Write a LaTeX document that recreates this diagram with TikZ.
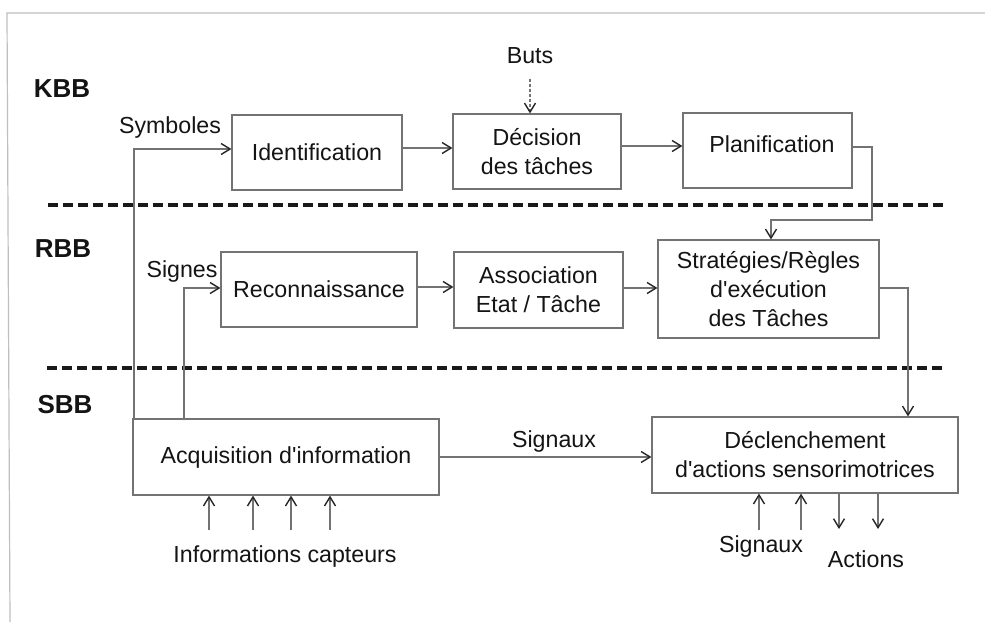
\documentclass[tikz,border=0pt]{standalone}
\usepackage{fontspec}
\setmainfont{Liberation Sans}
\usetikzlibrary{arrows.meta}
\definecolor{boxgray}{gray}{0.45}
\definecolor{linegray}{gray}{0.45}
\definecolor{framegray}{gray}{0.75}
\definecolor{txt}{gray}{0.08}
\begin{document}
\begin{tikzpicture}[x=0.5pt,y=-0.5pt,
  txtfont/.style={font=\fontsize{11.6pt}{14.5pt}\selectfont},
  box/.style={draw=boxgray, line width=0.6pt, inner sep=0pt, align=center, txtfont, text=txt},
  lbl/.style={inner sep=0pt, txtfont, text=txt},
  layer/.style={inner sep=0pt, font=\fontsize{13pt}{15pt}\selectfont\bfseries, text=txt},
  arr/.style={draw=linegray, line width=0.55pt,
    -{Straight Barb[length=4.5pt,width=5.5pt,line width=0.7pt,color=black!85]}},
  sep/.style={draw=black!90, line width=2.2pt, dash pattern=on 5pt off 2.5pt}
]
\useasboundingbox (0,0) rectangle (985,622);
\fill[white] (0,0) rectangle (985,622);
% page frame
\draw[framegray, line width=0.6pt] (985,13) -- (7,13) -- (10,622);

% layer separators
\draw[sep] (48,205) -- (943,205);
\draw[sep] (47,368) -- (943,368);

% layer labels
\node[layer, anchor=base] (kbb) at (62,97) {KBB};
\node[layer, anchor=base] (rbb) at (63,257) {RBB};
\node[layer, anchor=base] (sbb) at (65,413) {SBB};

% boxes
\node[box, minimum width=85pt, minimum height=37.5pt] (ident) at (317,152.5) {Identification};
\node[box, minimum width=84pt, minimum height=37.5pt] (dec) at (537,151.5) {Décision\\des tâches};
\node[box, minimum width=84.5pt, minimum height=37.5pt] (plan) at (767.5,150.5) {};
\node[lbl, anchor=base] (planT) at (772,152) {Planification};
\node[box, minimum width=98pt, minimum height=37.5pt] (reco) at (319,289.5) {Reconnaissance};
\node[box, minimum width=84.5pt, minimum height=38pt] (assoc) at (538.5,290) {Association\\Etat / Tâche};
\node[box, minimum width=110.5pt, minimum height=49pt] (strat) at (768.5,289) {Stratégies/Règles\\d\textquotesingle exécution\\des Tâches};
\node[box, minimum width=153pt, minimum height=38pt] (acq) at (286,457) {Acquisition d\textquotesingle information};
\node[box, minimum width=153pt, minimum height=38pt] (decl) at (805,455) {Déclenchement\\d\textquotesingle actions sensorimotrices};

% free labels
\node[lbl, anchor=base] (buts) at (530,63) {Buts};
\node[lbl, anchor=base] (symb) at (170,133) {Symboles};
\node[lbl, anchor=base] (signes) at (182,277) {Signes};
\node[lbl, anchor=base] (sigmid) at (554,447) {Signaux};
\node[lbl, anchor=base] (infocapt) at (285,562) {Informations capteurs};
\node[lbl, anchor=base] (sigbot) at (761,552) {Signaux};
\node[lbl, anchor=base] (actions) at (866,567) {Actions};

% connectors
\draw[arr, dash pattern=on 1.5pt off 1pt, shorten <=7.5pt] (buts.south) -- (dec.north -| buts.south);
\draw[arr] (ident.east |- 0,148) -- (dec.west |- 0,148);
\draw[arr] (dec.east |- 0,146) -- (plan.west |- 0,146);
\draw[arr] (plan.east |- 0,147) -| (872,220) -| (strat.north -| 771,0);
\draw[arr] (reco.east |- 0,287) -- (assoc.west |- 0,287);
\draw[arr] (assoc.east |- 0,288) -- (strat.west |- 0,288);
\draw[arr] (strat.east |- 0,288) -| (decl.north -| 908,0);
\draw[arr] (acq.north -| 134,0) |- (ident.west |- 0,149);
\draw[arr] (acq.north -| 184,0) |- (reco.west |- 0,288);
\draw[arr] (acq.east |- 0,457) -- (decl.west |- 0,457);

% sensor inputs
\coordinate (in1) at (209,530);
\coordinate (in2) at (253,530);
\coordinate (in3) at (291,530);
\coordinate (in4) at (330,530);
\foreach \c in {in1,in2,in3,in4} \draw[arr] (\c) -- (\c |- acq.south);

% bottom signals and actions
\coordinate (s1) at (759,530);
\coordinate (s2) at (801,530);
\coordinate (a1) at (839,529);
\coordinate (a2) at (878,529);
\draw[arr] (s1) -- (s1 |- decl.south);
\draw[arr] (s2) -- (s2 |- decl.south);
\draw[arr] (a1 |- decl.south) -- (a1);
\draw[arr] (a2 |- decl.south) -- (a2);
\end{tikzpicture}
\end{document}
